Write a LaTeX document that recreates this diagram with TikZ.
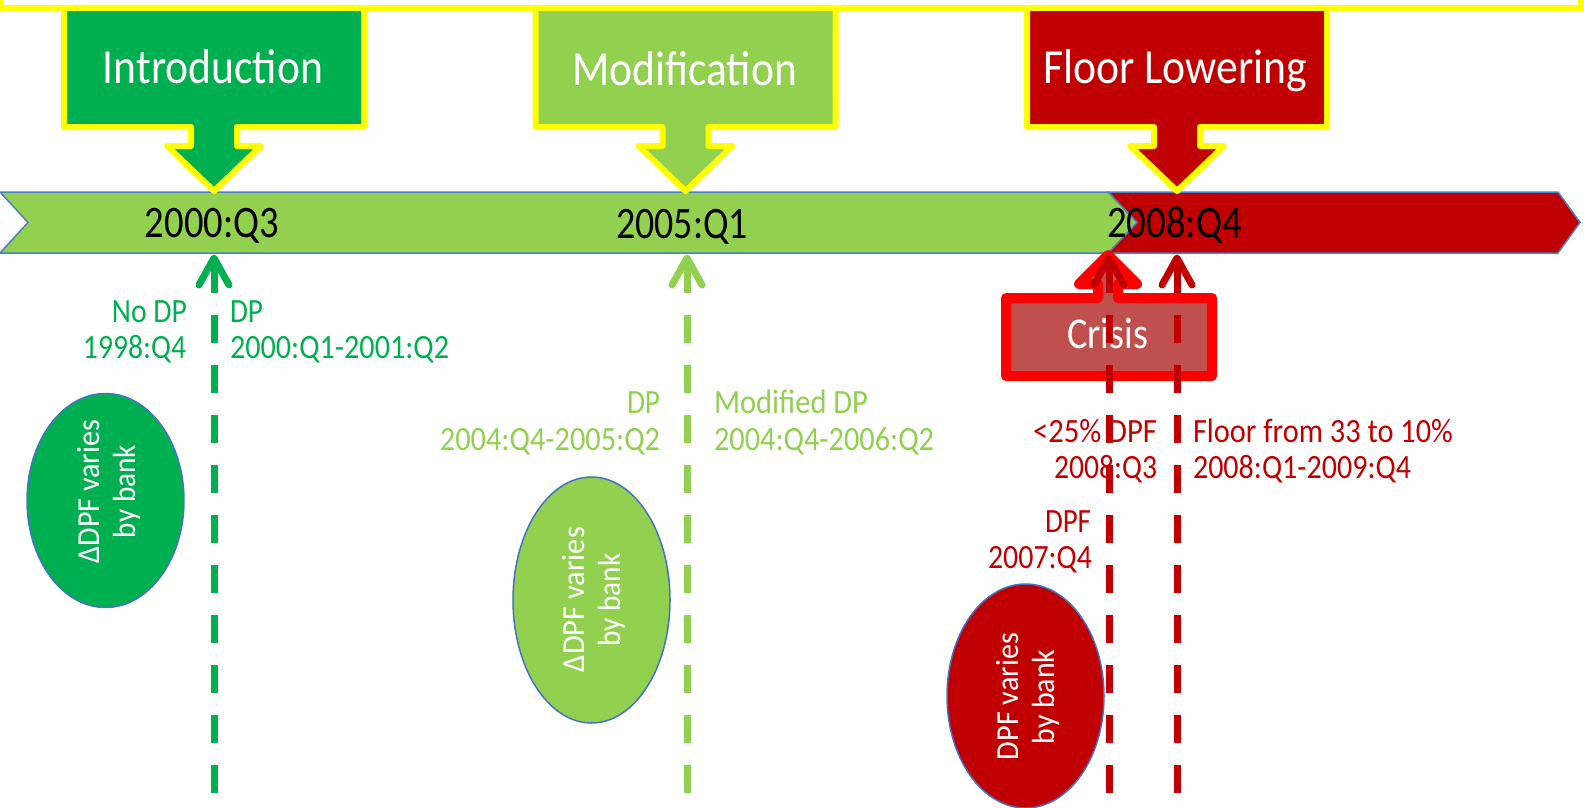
\documentclass[tikz,border=0pt]{standalone}
\usepackage{fontspec}
\setmainfont{Carlito}
\usepackage{graphicx}
\usetikzlibrary{shapes.geometric}
\definecolor{dgreen}{HTML}{00B050}
\definecolor{lgreen}{HTML}{92D050}
\definecolor{dred}{HTML}{C00000}
\definecolor{brightred}{HTML}{FF0000}
\definecolor{crisisfill}{HTML}{C0504D}
\definecolor{yel}{HTML}{FFFF00}
\definecolor{barblue}{HTML}{4F81BD}
\definecolor{ovalblue}{HTML}{4472C4}
\newcommand\fitw[2]{\resizebox{#1pt}{\height}{#2}}
\newcommand\mycallout[2]{%
  \draw[callout, fill=#2, xshift=#1pt] (-150,8) -- (150,8) -- (150,127) -- (23,127) -- (23,146) -- (47,146) -- (0,191) -- (-47,146) -- (-23,146) -- (-23,127) -- (-150,127) -- cycle;}
\newcommand\tlarrow[3]{%
  \coordinate (#1b) at (#2,793);
  \coordinate (#1t) at (#2,258);
  \draw[dashline, #3] (#1b) -- (#1t);
  \draw[vtip, #3] (#1t) ++(-15,27) -- (#1t) -- ++(15,27);}
\begin{document}
\begin{tikzpicture}[x=1pt,y=-1pt,
  every node/.style={inner sep=0pt, outer sep=0pt},
  callout/.style={draw=yel, line width=6pt, line join=round},
  barpart/.style={draw=barblue, line width=1.5pt},
  ttl/.style={text=white, font=\fontsize{49}{55}\selectfont, anchor=base},
  datetxt/.style={text=black, font=\fontsize{45}{50}\selectfont, anchor=base},
  lbl/.style={font=\fontsize{34}{40}\selectfont},
  oval/.style={ellipse, draw=ovalblue, line width=1.5pt, minimum width=157pt},
  ovaltxt/.style={text=white, font=\fontsize{32}{36}\selectfont, rotate=90, anchor=base},
  dashline/.style={line width=7pt, dash pattern=on 28pt off 22pt},
  vtip/.style={line width=7pt, line cap=round, line join=round},
]
\useasboundingbox (0,0) rectangle (1584,808);
\clip (0,0) rectangle (1584,808);
\fill[white] (0,0) rectangle (1584,808);

% top frame
\draw[yel, line width=6pt] (1,-10) -- (1,8) -- (1581,8) -- (1581,-10);

% timeline bar
\draw[barpart, fill=dred] (1108,192) -- (1558,192) -- (1580,222.5) -- (1558,253) -- (1108,253) -- (1137,222.5) -- cycle;
\draw[barpart, fill=lgreen] (0,192) -- (1108,192) -- (1137,222.5) -- (1108,253) -- (0,253) -- (28,222.5) -- cycle;

% callouts
\mycallout{214}{dgreen}
\mycallout{685.5}{lgreen}
\mycallout{1177}{dred}
\node[ttl] (intro) at (213,83) {\fitw{220}{Introduction}};
\node[ttl] (modif) at (684.5,85) {\fitw{225}{Modification}};
\node[ttl] (floor) at (1175,83) {\fitw{264}{Floor Lowering}};

% dates
\node[datetxt] (d1) at (212,237) {\fitw{134}{2000:Q3}};
\node[datetxt] (d2) at (682,238) {\fitw{132}{2005:Q1}};
\node[datetxt] (d3) at (1174.5,237) {\fitw{135}{2008:Q4}};

% ellipses
\node[oval, fill=dgreen, minimum height=214pt] (e1) at (105.5,500.5) {};
\node[oval, fill=lgreen, minimum height=246pt] (e2) at (591.5,600) {};
\node[oval, fill=dred, minimum height=224pt] (e3) at (1025.5,696) {};
\node[ovaltxt] (e1a) at (99,491.5) {\fitw{143}{ΔDPF varies}};
\node[ovaltxt] (e1b) at (135,491.5) {\fitw{93}{by bank}};
\node[ovaltxt] (e2a) at (584,599.5) {\fitw{145}{ΔDPF varies}};
\node[ovaltxt] (e2b) at (620,600) {\fitw{93}{by bank}};
\node[ovaltxt] (e3a) at (1018,696.5) {\fitw{127}{DPF varies}};
\node[ovaltxt] (e3b) at (1054,697) {\fitw{95}{by bank}};

% labels
\node[lbl, text=dgreen, anchor=base east] (nodp) at (187,322) {\fitw{75}{No DP}};
\node[lbl, text=dgreen, anchor=base east] (nodpd) at (186,358) {\fitw{103}{1998:Q4}};
\node[lbl, text=dgreen, anchor=base west] (dpa) at (230,322) {\fitw{33}{DP}};
\node[lbl, text=dgreen, anchor=base west] (dpad) at (230,358) {\fitw{219}{2000:Q1-2001:Q2}};
\node[lbl, text=lgreen, anchor=base east] (dpb) at (660,413) {\fitw{33}{DP}};
\node[lbl, text=lgreen, anchor=base east] (dpbd) at (660,450) {\fitw{220}{2004:Q4-2005:Q2}};
\node[lbl, text=lgreen, anchor=base west] (mdp) at (714,413) {\fitw{154}{Modified DP}};
\node[lbl, text=lgreen, anchor=base west] (mdpd) at (714,450) {\fitw{220}{2004:Q4-2006:Q2}};
\node[lbl, text=dred, anchor=base east] (lt) at (1157,442) {\fitw{124}{<25\% DPF}};
\node[lbl, text=dred, anchor=base east] (ltd) at (1157,478) {\fitw{103}{2008:Q3}};
\node[lbl, text=dred, anchor=base west] (flr) at (1193,442) {\fitw{260}{Floor from 33 to 10\%}};
\node[lbl, text=dred, anchor=base west] (flrd) at (1193,478) {\fitw{218}{2008:Q1-2009:Q4}};
\node[lbl, text=dred, anchor=base east] (dpf) at (1091,532) {\fitw{46}{DPF}};
\node[lbl, text=dred, anchor=base east] (dpfd) at (1092,568) {\fitw{104}{2007:Q4}};

% crisis callout
\draw[line width=10pt, draw=brightred, fill=crisisfill, line join=round]
  (1006,298) -- (1098,298) -- (1098,284) -- (1079,284) -- (1108,255) -- (1137,284) -- (1118,284) -- (1118,298) -- (1212,298) -- (1212,376) -- (1006,376) -- cycle;
\node[text=white, font=\fontsize{44}{50}\selectfont, anchor=base] (crisis) at (1107.5,348) {\fitw{81}{Crisis}};

% dashed arrows
\tlarrow{ga}{214}{dgreen}
\tlarrow{gb}{687}{lgreen}
\tlarrow{ra}{1109}{dred}
\tlarrow{rb}{1177}{dred}
\end{tikzpicture}
\end{document}
